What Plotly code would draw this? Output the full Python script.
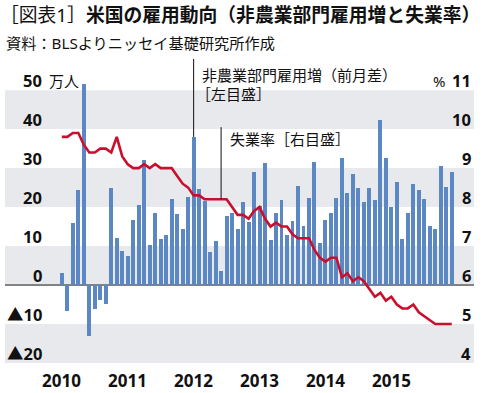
import plotly.graph_objects as go

# ---------------- data ----------------
years = ["2010", "2011", "2012", "2013", "2014", "2015"]
months = [f"{y}-{m:02d}" for y in years for m in range(1, 13)]

# Nonfarm payroll change, month over month (10k persons)
payrolls = [3.0, -6.6, 16.0, 24.5, 51.7, -13.1, -6.2, -3.8, -4.9, 24.9, 12.1, 8.8,
            7.4, 16.7, 20.5, 32.1, 10.3, 18.4, 11.7, 12.8, 22.1, 18.2, 14.5, 22.5,
            38.0, 24.6, 21.5, 8.5, 11.2, 3.5, 17.7, 18.6, 14.3, 21.3, 16.2, 29.1,
            20.4, 31.4, 11.5, 18.6, 21.8, 12.8, 16.4, 25.4, 15.1, 22.4, 31.5, 10.9,
            16.7, 18.6, 22.4, 32.7, 23.5, 28.5, 24.8, 21.3, 25.0, 21.8, 42.3, 32.7,
            20.1, 26.4, 11.8, 18.6, 25.9, 24.4, 22.1, 15.2, 14.3, 30.5, 25.2, 29.1]

# Unemployment rate (%)
unemployment = [9.8, 9.8, 9.9, 9.9, 9.6, 9.4, 9.4, 9.5, 9.5, 9.4, 9.8, 9.3,
                9.1, 9.0, 9.0, 9.1, 9.0, 9.1, 9.0, 9.0, 9.0, 8.8, 8.6, 8.5,
                8.3, 8.3, 8.2, 8.2, 8.2, 8.2, 8.2, 8.0, 7.8, 7.8, 7.7, 7.9,
                8.0, 7.7, 7.5, 7.6, 7.5, 7.5, 7.3, 7.2, 7.2, 7.2, 6.9, 6.7,
                6.6, 6.7, 6.7, 6.2, 6.3, 6.1, 6.2, 6.1, 5.9, 5.7, 5.8, 5.6,
                5.7, 5.5, 5.4, 5.4, 5.5, 5.3, 5.2, 5.1, 5.0, 5.0, 5.0, 5.0]

left_tick_vals = [50, 40, 30, 20, 10, 0, -10, -20]
left_tick_text = ["50", "40", "30", "20", "10", "0", "▲10", "▲20"]
right_tick_vals = [11, 10, 9, 8, 7, 6, 5, 4]
right_tick_text = ["11", "10", "9", "8", "7", "6", "5", "4"]
year_ticks = [f"{y}-01" for y in years]

title_a = "［図表1］"
title_b = "米国の雇用動向（非農業部門雇用増と失業率）"
subtitle = "資料：BLSよりニッセイ基礎研究所作成"
unit_left = "万人"
unit_right = "%"
label_jobs_1 = "非農業部門雇用増（前月差）"
label_jobs_2 = "［左目盛］"
label_rate = "失業率［右目盛］"

# ---------------- layout geometry ----------------
W, H = 484, 393
ML, MR, MT, MB = 5, 10, 57, 30
PW = W - ML - MR
PH = H - MT - MB


def px_x(px):
    return (px - ML) / PW


def px_y(py):
    return (H - MB - py) / PH


FONT = "Noto Sans, Noto Sans CJK JP, sans-serif"
BLUE = "#5b88c2"
RED = "#c8102e"
BAND = "#e7e9ec"
INK = "#111111"

fig = go.Figure()
fig.add_trace(go.Bar(x=months, y=payrolls, marker=dict(color=BLUE, line=dict(width=0)),
                     width=0.72, yaxis="y", name="jobs", hoverinfo="skip"))
fig.add_trace(go.Scatter(x=months, y=unemployment, mode="lines", yaxis="y2",
                         line=dict(color=RED, width=2.6), name="rate", hoverinfo="skip"))

shapes = []
for lo, hi in [(40, 50), (20, 30), (0, 10), (-20, -10)]:
    shapes.append(dict(type="rect", xref="paper", x0=0, x1=1, yref="y", y0=lo, y1=hi,
                       fillcolor=BAND, line=dict(width=0), layer="below"))
shapes.append(dict(type="line", xref="paper", x0=0, x1=1, yref="y", y0=0, y1=0,
                   line=dict(color=INK, width=1), layer="below"))
# leader lines
shapes.append(dict(type="line", xref="x", x0=months[24], x1=months[24], yref="y",
                   y0=payrolls[24], y1=58, line=dict(color=INK, width=1)))
shapes.append(dict(type="line", xref="x", x0=months[29], x1=months[29], yref="y2",
                   y0=unemployment[29], y1=10.05, line=dict(color=INK, width=1)))

ann = []
for v, t in zip(left_tick_vals, left_tick_text):
    ann.append(dict(x=px_x(44), xref="paper", y=v, yref="y", text=t, showarrow=False,
                    xanchor="right", yanchor="middle", yshift=9.5,
                    font=dict(family=FONT, size=16.5, color=INK, weight="bold")))
for v, t in zip(right_tick_vals, right_tick_text):
    ann.append(dict(x=px_x(473), xref="paper", y=v, yref="y2", text=t, showarrow=False,
                    xanchor="right", yanchor="middle", yshift=9.5,
                    font=dict(family=FONT, size=16.5, color=INK, weight="bold")))
for t, y in zip(years, year_ticks):
    ann.append(dict(x=y, xref="x", y=px_y(380), yref="paper", text=t, showarrow=False,
                    xanchor="center", yanchor="middle",
                    font=dict(family=FONT, size=17, color=INK, weight="bold")))
ann.append(dict(x=px_x(47), xref="paper", y=50, yref="y", text=unit_left, showarrow=False,
                xanchor="left", yanchor="middle", yshift=9.5,
                font=dict(family=FONT, size=15, color=INK)))
ann.append(dict(x=px_x(447), xref="paper", y=11, yref="y2", text=unit_right, showarrow=False,
                xanchor="right", yanchor="middle", yshift=9.5,
                font=dict(family=FONT, size=15, color=INK)))

ann.append(dict(x=px_x(200), xref="paper", y=px_y(75), yref="paper", text=label_jobs_1,
                showarrow=False, xanchor="left", yanchor="middle",
                font=dict(family=FONT, size=15, color=INK)))
ann.append(dict(x=px_x(194), xref="paper", y=px_y(94), yref="paper", text=label_jobs_2,
                showarrow=False, xanchor="left", yanchor="middle",
                font=dict(family=FONT, size=15, color=INK)))
ann.append(dict(x=px_x(228), xref="paper", y=px_y(139), yref="paper", text=label_rate,
                showarrow=False, xanchor="left", yanchor="middle",
                font=dict(family=FONT, size=15, color=INK)))

ann.append(dict(x=px_x(-2), xref="paper", y=px_y(15), yref="paper",
                text=title_a + "<b>" + title_b + "</b>",
                showarrow=False, xanchor="left", yanchor="middle",
                font=dict(family=FONT, size=18.8, color=INK)))
ann.append(dict(x=px_x(4), xref="paper", y=px_y(43), yref="paper", text=subtitle,
                showarrow=False, xanchor="left", yanchor="middle",
                font=dict(family=FONT, size=15.2, color=INK)))

fig.update_layout(
    width=W, height=H,
    margin=dict(l=ML, r=MR, t=MT, b=MB, pad=0),
    paper_bgcolor="white", plot_bgcolor="white",
    showlegend=False, bargap=0,
    shapes=shapes, annotations=ann,
    xaxis=dict(type="category", range=[-10.35, 75.05], showticklabels=False,
               showgrid=False, showline=False, zeroline=False, ticks=""),
    yaxis=dict(range=[-20, 58.5], showticklabels=False, showgrid=False,
               zeroline=False, showline=False, ticks=""),
    yaxis2=dict(range=[4, 11.85], overlaying="y", side="right", showticklabels=False,
                showgrid=False, zeroline=False, showline=False, ticks=""),
)

fig.write_html("out.html", config={"displayModeBar": False},
               post_script="document.body.style.margin='0';")
